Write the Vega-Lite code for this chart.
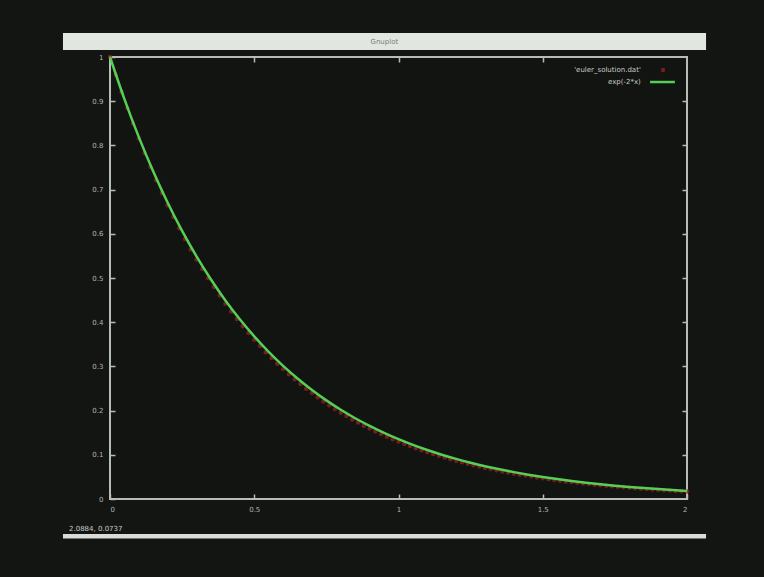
{
  "$schema": "https://vega.github.io/schema/vega-lite/v6.json",
  "width": 577,
  "height": 442,
  "autosize": {"type": "none"},
  "padding": {"left": 110, "top": 57, "right": 77, "bottom": 78},
  "background": "#131513",
  "config": {
    "view": {"stroke": "#b8bcb6", "strokeWidth": 2, "fill": "#111411"},
    "axis": {"domain": false, "grid": false, "labelColor": "#b0b4b0", "labelFont": "DejaVu Sans", "labelFontSize": 7, "tickColor": "#b8bcb6", "tickSize": -5, "tickWidth": 1.5}
  },
  "datasets": {
    "euler": [
      {"x": 0.00, "y": 1.000000}, {"x": 0.02, "y": 0.960000}, {"x": 0.04, "y": 0.921600}, {"x": 0.06, "y": 0.884736}, {"x": 0.08, "y": 0.849347},
      {"x": 0.10, "y": 0.815373}, {"x": 0.12, "y": 0.782758}, {"x": 0.14, "y": 0.751447}, {"x": 0.16, "y": 0.721390}, {"x": 0.18, "y": 0.692534},
      {"x": 0.20, "y": 0.664833}, {"x": 0.22, "y": 0.638239}, {"x": 0.24, "y": 0.612710}, {"x": 0.26, "y": 0.588201}, {"x": 0.28, "y": 0.564673},
      {"x": 0.30, "y": 0.542086}, {"x": 0.32, "y": 0.520402}, {"x": 0.34, "y": 0.499586}, {"x": 0.36, "y": 0.479603}, {"x": 0.38, "y": 0.460419},
      {"x": 0.40, "y": 0.442002}, {"x": 0.42, "y": 0.424322}, {"x": 0.44, "y": 0.407349}, {"x": 0.46, "y": 0.391055}, {"x": 0.48, "y": 0.375413},
      {"x": 0.50, "y": 0.360396}, {"x": 0.52, "y": 0.345980}, {"x": 0.54, "y": 0.332141}, {"x": 0.56, "y": 0.318855}, {"x": 0.58, "y": 0.306101},
      {"x": 0.60, "y": 0.293857}, {"x": 0.62, "y": 0.282102}, {"x": 0.64, "y": 0.270818}, {"x": 0.66, "y": 0.259985}, {"x": 0.68, "y": 0.249585},
      {"x": 0.70, "y": 0.239602}, {"x": 0.72, "y": 0.230018}, {"x": 0.74, "y": 0.220817}, {"x": 0.76, "y": 0.211984}, {"x": 0.78, "y": 0.203505},
      {"x": 0.80, "y": 0.195364}, {"x": 0.82, "y": 0.187550}, {"x": 0.84, "y": 0.180048}, {"x": 0.86, "y": 0.172846}, {"x": 0.88, "y": 0.165932},
      {"x": 0.90, "y": 0.159294}, {"x": 0.92, "y": 0.152923}, {"x": 0.94, "y": 0.146806}, {"x": 0.96, "y": 0.140934}, {"x": 0.98, "y": 0.135296},
      {"x": 1.00, "y": 0.129884}, {"x": 1.02, "y": 0.124689}, {"x": 1.04, "y": 0.119702}, {"x": 1.06, "y": 0.114914}, {"x": 1.08, "y": 0.110317},
      {"x": 1.10, "y": 0.105904}, {"x": 1.12, "y": 0.101668}, {"x": 1.14, "y": 0.097601}, {"x": 1.16, "y": 0.093697}, {"x": 1.18, "y": 0.089949},
      {"x": 1.20, "y": 0.086351}, {"x": 1.22, "y": 0.082897}, {"x": 1.24, "y": 0.079581}, {"x": 1.26, "y": 0.076398}, {"x": 1.28, "y": 0.073342},
      {"x": 1.30, "y": 0.070408}, {"x": 1.32, "y": 0.067592}, {"x": 1.34, "y": 0.064888}, {"x": 1.36, "y": 0.062293}, {"x": 1.38, "y": 0.059801},
      {"x": 1.40, "y": 0.057409}, {"x": 1.42, "y": 0.055113}, {"x": 1.44, "y": 0.052908}, {"x": 1.46, "y": 0.050792}, {"x": 1.48, "y": 0.048760},
      {"x": 1.50, "y": 0.046810}, {"x": 1.52, "y": 0.044938}, {"x": 1.54, "y": 0.043140}, {"x": 1.56, "y": 0.041414}, {"x": 1.58, "y": 0.039758},
      {"x": 1.60, "y": 0.038168}, {"x": 1.62, "y": 0.036641}, {"x": 1.64, "y": 0.035175}, {"x": 1.66, "y": 0.033768}, {"x": 1.68, "y": 0.032418},
      {"x": 1.70, "y": 0.031121}, {"x": 1.72, "y": 0.029876}, {"x": 1.74, "y": 0.028681}, {"x": 1.76, "y": 0.027534}, {"x": 1.78, "y": 0.026433},
      {"x": 1.80, "y": 0.025375}, {"x": 1.82, "y": 0.024360}, {"x": 1.84, "y": 0.023386}, {"x": 1.86, "y": 0.022451}, {"x": 1.88, "y": 0.021553},
      {"x": 1.90, "y": 0.020690}, {"x": 1.92, "y": 0.019863}, {"x": 1.94, "y": 0.019068}, {"x": 1.96, "y": 0.018305}, {"x": 1.98, "y": 0.017573},
      {"x": 2.00, "y": 0.016870}
    ],
    "exact": [
      {"x": 0.00, "y": 1.000000}, {"x": 0.05, "y": 0.904837}, {"x": 0.10, "y": 0.818731}, {"x": 0.15, "y": 0.740818}, {"x": 0.20, "y": 0.670320},
      {"x": 0.25, "y": 0.606531}, {"x": 0.30, "y": 0.548812}, {"x": 0.35, "y": 0.496585}, {"x": 0.40, "y": 0.449329}, {"x": 0.45, "y": 0.406570},
      {"x": 0.50, "y": 0.367879}, {"x": 0.55, "y": 0.332871}, {"x": 0.60, "y": 0.301194}, {"x": 0.65, "y": 0.272532}, {"x": 0.70, "y": 0.246597},
      {"x": 0.75, "y": 0.223130}, {"x": 0.80, "y": 0.201897}, {"x": 0.85, "y": 0.182684}, {"x": 0.90, "y": 0.165299}, {"x": 0.95, "y": 0.149569},
      {"x": 1.00, "y": 0.135335}, {"x": 1.05, "y": 0.122456}, {"x": 1.10, "y": 0.110803}, {"x": 1.15, "y": 0.100259}, {"x": 1.20, "y": 0.090718},
      {"x": 1.25, "y": 0.082085}, {"x": 1.30, "y": 0.074274}, {"x": 1.35, "y": 0.067206}, {"x": 1.40, "y": 0.060810}, {"x": 1.45, "y": 0.055023},
      {"x": 1.50, "y": 0.049787}, {"x": 1.55, "y": 0.045049}, {"x": 1.60, "y": 0.040762}, {"x": 1.65, "y": 0.036883}, {"x": 1.70, "y": 0.033373},
      {"x": 1.75, "y": 0.030197}, {"x": 1.80, "y": 0.027324}, {"x": 1.85, "y": 0.024724}, {"x": 1.90, "y": 0.022371}, {"x": 1.95, "y": 0.020242},
      {"x": 2.00, "y": 0.018316}
    ],
    "one": [{}]
  },
  "resolve": {"axis": {"x": "independent", "y": "independent"}},
  "layer": [
    {
      "data": {"name": "one"},
      "mark": {"type": "rect", "color": "#e2e6e0", "clip": false},
      "encoding": {
        "x": {"datum": -0.163, "type": "quantitative", "scale": {"domain": [0, 2], "nice": false, "zero": false}, "axis": null},
        "x2": {"datum": 2.066},
        "y": {"datum": 1.0543, "type": "quantitative", "scale": {"domain": [0, 1], "nice": false, "zero": false}, "axis": null},
        "y2": {"datum": 1.0158}
      }
    },
    {
      "data": {"name": "one"},
      "mark": {"type": "text", "text": "Gnuplot", "color": "#7a7e78", "fontSize": 7, "font": "DejaVu Sans", "align": "center", "baseline": "middle"},
      "encoding": {
        "x": {"datum": 0.951, "type": "quantitative", "axis": null},
        "y": {"datum": 1.035, "type": "quantitative", "axis": null}
      }
    },
    {
      "data": {"name": "one"},
      "mark": {"type": "rect", "color": "#d8dcd6"},
      "encoding": {
        "x": {"datum": -0.163, "type": "quantitative", "axis": null},
        "x2": {"datum": 2.066},
        "y": {"datum": -0.079, "type": "quantitative", "axis": null},
        "y2": {"datum": -0.0895}
      }
    },
    {
      "data": {"name": "one"},
      "mark": {"type": "text", "text": "2.0884, 0.0737", "color": "#c8ccc6", "fontSize": 7, "font": "DejaVu Sans", "align": "left", "baseline": "middle"},
      "encoding": {
        "x": {"datum": -0.142, "type": "quantitative", "axis": null},
        "y": {"datum": -0.068, "type": "quantitative", "axis": null}
      }
    },
    {
      "data": {"name": "euler"},
      "mark": {"type": "point", "shape": "circle", "filled": true, "size": 20, "color": "#8c2020", "opacity": 0.8},
      "encoding": {
        "x": {"field": "x", "type": "quantitative", "axis": {"orient": "bottom", "values": [0, 0.5, 1, 1.5, 2], "labelExpr": "'' + datum.value", "labelPadding": 11, "title": null}},
        "y": {"field": "y", "type": "quantitative", "axis": {"orient": "left", "values": [0, 0.1, 0.2, 0.3, 0.4, 0.5, 0.6, 0.7, 0.8, 0.9, 1], "labelExpr": "'' + datum.value", "labelPadding": 12, "title": null}}
      }
    },
    {
      "data": {"name": "exact"},
      "mark": {"type": "line", "color": "#55d055", "strokeWidth": 2.5, "interpolate": "monotone"},
      "encoding": {
        "x": {"field": "x", "type": "quantitative", "axis": {"orient": "top", "values": [0.5, 1, 1.5], "labels": false, "title": null}},
        "y": {"field": "y", "type": "quantitative", "axis": {"orient": "right", "values": [0.1, 0.2, 0.3, 0.4, 0.5, 0.6, 0.7, 0.8, 0.9], "labels": false, "title": null}}
      }
    },
    {
      "data": {"name": "one"},
      "mark": {"type": "text", "text": "'euler_solution.dat'", "color": "#c8ccc6", "fontSize": 7, "font": "DejaVu Sans", "align": "right", "baseline": "middle"},
      "encoding": {
        "x": {"datum": 1.84, "type": "quantitative", "axis": null},
        "y": {"datum": 0.9706, "type": "quantitative", "axis": null}
      }
    },
    {
      "data": {"name": "one"},
      "mark": {"type": "text", "text": "exp(-2*x)", "color": "#c8ccc6", "fontSize": 7, "font": "DejaVu Sans", "align": "right", "baseline": "middle"},
      "encoding": {
        "x": {"datum": 1.84, "type": "quantitative", "axis": null},
        "y": {"datum": 0.9434, "type": "quantitative", "axis": null}
      }
    },
    {
      "data": {"name": "one"},
      "mark": {"type": "point", "shape": "circle", "filled": true, "size": 20, "color": "#8c2020", "opacity": 0.8},
      "encoding": {
        "x": {"datum": 1.917, "type": "quantitative", "axis": null},
        "y": {"datum": 0.9706, "type": "quantitative", "axis": null}
      }
    },
    {
      "data": {"name": "one"},
      "mark": {"type": "rule", "color": "#55d055", "strokeWidth": 2.5},
      "encoding": {
        "x": {"datum": 1.872, "type": "quantitative", "axis": null},
        "x2": {"datum": 1.958},
        "y": {"datum": 0.9434, "type": "quantitative", "axis": null}
      }
    }
  ]
}
